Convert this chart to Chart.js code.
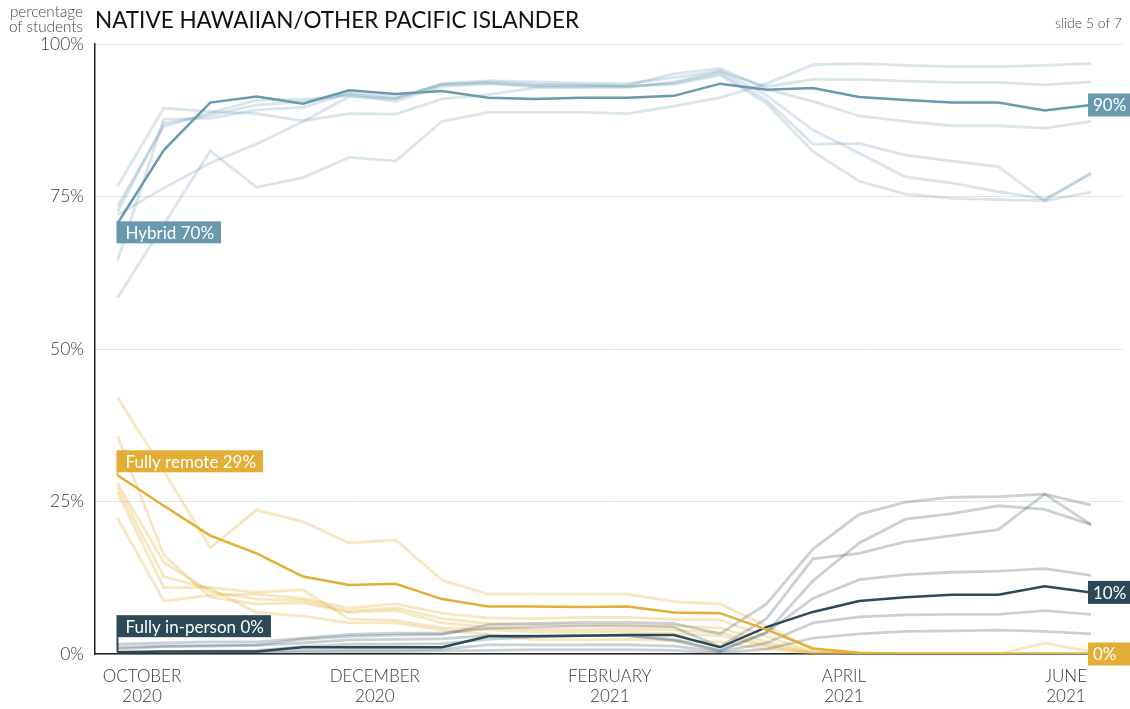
<!DOCTYPE html>
<html>
<head>
<meta charset="utf-8">
<script src="https://cdn.jsdelivr.net/npm/chart.js@4.4.1/dist/chart.umd.min.js"></script>
<style>
  html, body { margin: 0; padding: 0; background: #fff; }
  #wrap { position: relative; width: 1130px; height: 709px; overflow: hidden; }
  #c { position: absolute; left: 0; top: 0; }
  .t { position: absolute; font-family: Lato, "Open Sans", sans-serif; white-space: nowrap; }
  #title { left: 95px; top: 6px; font-size: 22.5px; font-weight: 400; color: #111; }
  #ylab { right: 1047px; top: 4px; font-size: 15.3px; font-weight: 300; color: #444; text-align: right; line-height: 15px; }
  #slide { right: 8px; top: 14px; font-size: 14px; font-weight: 300; color: #444; }
</style>
</head>
<body>
<div id="wrap">
  <canvas id="c" width="1130" height="709"></canvas>
  <div class="t" id="title">NATIVE HAWAIIAN/OTHER PACIFIC ISLANDER</div>
  <div class="t" id="ylab">percentage<br>of students</div>
  <div class="t" id="slide">slide 5 of 7</div>
</div>
<script>
// ---- data (22 survey points, Oct 2020 - Jun 2021) ----
const pointIndex = [0,1,2,3,4,5,6,7,8,9,10,11,12,13,14,15,16,17,18,19,20,21];
const monthTickPos = [0.53, 5.55, 10.62, 15.67, 20.46];
const monthLabels = [["OCTOBER","2020"],["DECEMBER","2020"],["FEBRUARY","2021"],["APRIL","2021"],["JUNE","2021"]];
const yTicks = [0, 25, 50, 75, 100];

// highlighted group: Native Hawaiian / Other Pacific Islander
const hybridMain   = [70.6,82.6,90.4,91.4,90.2,92.4,91.8,92.3,91.2,91.0,91.2,91.2,91.5,93.5,92.5,92.8,91.3,90.8,90.4,90.4,89.1,90.0];
const remoteMain   = [29.3,24.3,19.4,16.5,12.7,11.3,11.5,9.0,7.8,7.8,7.7,7.8,6.8,6.7,4.0,0.9,0.2,0,0,0,0,0];
const inPersonMain = [0.3,0.4,0.4,0.4,1.1,1.1,1.1,1.1,2.9,2.9,3.0,3.1,3.1,1.1,4.4,6.9,8.7,9.3,9.7,9.7,11.1,10.1];

// other groups (faint)
const hybridOther1 = [76.7,89.5,88.9,88.6,87.4,88.6,88.5,91.0,91.7,92.8,93.0,93.2,95.1,96.0,92.6,90.6,88.2,87.3,86.6,86.6,86.2,87.3];
const hybridOther2 = [73.4,86.5,88.7,90.8,90.9,91.6,90.6,93.0,93.5,93.0,92.8,92.9,93.8,95.5,93.0,94.2,94.2,93.9,93.7,93.7,93.3,93.8];
const hybridOther3 = [64.5,87.7,87.8,89.2,89.6,92.0,91.3,93.3,93.8,93.4,93.3,93.0,93.6,95.2,90.8,83.6,83.7,81.8,80.8,79.9,74.3,78.9];
const hybridOther4 = [72.0,76.4,80.5,83.6,87.3,91.4,91.0,93.4,93.6,93.2,93.2,93.1,93.4,94.9,90.3,82.4,77.5,75.4,74.7,74.5,74.3,75.7];
const hybridOther5 = [72.5,87.0,88.3,90.0,90.5,91.8,91.0,93.5,94.0,93.8,93.6,93.5,94.5,95.6,91.6,85.9,82.1,78.2,77.2,75.8,74.6,78.7];
const hybridOther6 = [58.4,70.4,82.5,76.5,78.1,81.4,80.8,87.3,88.8,88.8,88.8,88.6,89.8,91.2,93.5,96.6,96.8,96.5,96.3,96.3,96.5,96.8];

const remoteOther1 = [42.1,30.0,17.4,23.6,21.7,18.2,18.7,12.1,9.8,9.8,9.8,9.8,8.6,8.2,4.6,0.7,0,0,0,0,0,0];
const remoteOther2 = [35.7,16.2,9.3,8.2,8.4,6.8,7.2,5.1,4.4,4.0,4.0,4.1,3.9,3.5,1.5,0.2,0,0,0,0,0,0];
const remoteOther3 = [27.3,12.7,10.7,6.8,6.2,5.1,5.1,3.9,3.2,2.3,2.3,2.4,2.2,2.0,0.8,0.1,0,0,0,0,0,0];
const remoteOther4 = [26.5,10.9,10.9,10.1,10.5,5.7,5.5,4.3,4.0,3.6,3.6,3.6,3.3,3.0,1.2,0.1,0,0,0,0,0,0];
const remoteOther5 = [22.3,8.7,9.6,9.8,9.1,7.5,8.2,6.7,5.9,5.8,6.0,6.0,5.7,5.6,2.9,0.3,0,0,0,0,1.8,0.4];
const remoteOther6 = [28.0,15.0,10.2,9.0,8.8,7.0,7.6,5.8,5.0,4.8,4.8,4.8,4.6,4.3,2.0,0.2,0,0,0,0,0,0];

const inPersonOther1 = [0.8,1.2,1.4,1.5,2.4,2.9,3.1,3.2,4.8,5.0,5.2,5.2,5.0,3.3,8.2,17.2,22.9,24.9,25.7,25.8,26.2,24.4];
const inPersonOther2 = [1.6,1.8,2.0,2.0,2.6,3.2,3.4,3.4,4.2,4.4,4.6,4.6,4.4,1.2,5.8,15.6,16.5,18.4,19.4,20.4,26.2,21.2];
const inPersonOther3 = [0.3,0.4,0.5,0.6,1.2,1.6,1.6,1.7,2.4,2.8,3.0,3.0,2.4,0.6,3.5,12.0,18.2,22.1,23.0,24.3,23.7,21.2];
const inPersonOther4 = [1.1,1.3,1.3,1.4,1.8,2.3,2.4,2.5,3.0,3.0,3.0,3.0,2.2,0.5,3.5,9.1,12.2,13.0,13.4,13.6,14.0,12.9];
const inPersonOther5 = [0.2,0.3,0.3,0.4,0.6,0.7,0.7,0.8,1.5,1.5,1.5,1.5,1.3,0.4,1.8,5.1,6.1,6.4,6.5,6.5,7.1,6.5];
const inPersonOther6 = [0.1,0.1,0.2,0.2,0.3,0.4,0.4,0.5,0.6,0.7,0.7,0.7,0.6,0.2,0.8,2.6,3.3,3.7,3.8,3.9,3.7,3.3];

const startLabels = [
  { series: "hybrid",   text: "Hybrid 70%" },
  { series: "remote",   text: "Fully remote 29%" },
  { series: "inperson", text: "Fully in-person 0%" }
];
const endLabels = [
  { series: "hybrid",   text: "90%" },
  { series: "inperson", text: "10%" },
  { series: "remote",   text: "0%" }
];

// ---- styles ----
const COL = { hybrid: "#6899ae", remote: "#e2ae36", inperson: "#2d4956" };
const FAINT = { hybrid: "rgba(104,153,174,0.25)", remote: "rgba(226,174,54,0.30)", inperson: "rgba(45,73,86,0.25)" };
const LABEL_STYLE = {
  hybrid:   { dy: -2, above: false },
  remote:   { dy: -3, above: true },
  inperson: { dy: -15, above: true }
};
const mainData = { hybrid: hybridMain, remote: remoteMain, inperson: inPersonMain };

function toXY(arr) { return arr.map((v, i) => ({ x: pointIndex[i], y: v })); }
function faint(arr, key) {
  return { data: toXY(arr), borderColor: FAINT[key], borderWidth: 2.8, pointRadius: 0, order: 5, tension: 0, fill: false };
}
function main(arr, key) {
  return { data: toXY(arr), borderColor: COL[key], borderWidth: 2.5, pointRadius: 0, order: 0, tension: 0, fill: false };
}

const datasets = [
  main(hybridMain, "hybrid"), main(remoteMain, "remote"), main(inPersonMain, "inperson"),
  faint(hybridOther1, "hybrid"), faint(hybridOther2, "hybrid"), faint(hybridOther3, "hybrid"),
  faint(hybridOther4, "hybrid"), faint(hybridOther5, "hybrid"), faint(hybridOther6, "hybrid"),
  faint(inPersonOther1, "inperson"), faint(inPersonOther2, "inperson"), faint(inPersonOther3, "inperson"),
  faint(inPersonOther4, "inperson"), faint(inPersonOther5, "inperson"), faint(inPersonOther6, "inperson"),
  faint(remoteOther1, "remote"), faint(remoteOther2, "remote"), faint(remoteOther3, "remote"),
  faint(remoteOther4, "remote"), faint(remoteOther5, "remote"), faint(remoteOther6, "remote")
];

const labelPlugin = {
  id: "seriesLabels",
  afterDatasetsDraw(chart) {
    const ctx = chart.ctx, xs = chart.scales.x, ys = chart.scales.y;
    ctx.save();
    ctx.textBaseline = "middle";
    // start labels
    ctx.font = "400 17px Lato";
    startLabels.forEach(l => {
      const arr = mainData[l.series];
      const px = xs.getPixelForValue(pointIndex[0]);
      const py = ys.getPixelForValue(arr[0]);
      const st = LABEL_STYLE[l.series];
      const w = ctx.measureText(l.text).width + 16, h = 22;
      const left = px - 1;
      let top;
      if (st.above) {
        top = py + st.dy - h;
        ctx.strokeStyle = COL[l.series]; ctx.lineWidth = 2;
        ctx.beginPath(); ctx.moveTo(px, top + h); ctx.lineTo(px, py); ctx.stroke();
      } else {
        top = py + st.dy;
      }
      ctx.fillStyle = COL[l.series];
      ctx.fillRect(left, top, w, h);
      ctx.fillStyle = "#fff";
      ctx.textAlign = "left";
      ctx.fillText(l.text, left + 9, top + h / 2 + 1);
    });
    // end labels
    ctx.font = "400 17px Lato";
    endLabels.forEach(l => {
      const arr = mainData[l.series];
      const last = arr.length - 1;
      const px = xs.getPixelForValue(pointIndex[last]);
      const py = ys.getPixelForValue(arr[last]);
      const w = ctx.measureText(l.text).width + 10, h = 23;
      const left = px - 3;
      ctx.fillStyle = COL[l.series];
      ctx.fillRect(left, py - h / 2, Math.max(w, chart.width - left), h);
      ctx.fillStyle = "#fff";
      ctx.textAlign = "left";
      ctx.fillText(l.text, left + 5, py + 1);
    });
    ctx.restore();
  }
};

new Chart(document.getElementById("c"), {
  type: "line",
  data: { datasets },
  plugins: [labelPlugin],
  options: {
    responsive: false,
    animation: false,
    events: [],
    layout: { padding: { left: 0, right: 7, top: 44, bottom: 0 } },
    plugins: { legend: { display: false }, tooltip: { enabled: false }, title: { display: false } },
    scales: {
      x: {
        type: "linear",
        min: -0.485, max: 21.69,
        grid: { display: false, drawTicks: false },
        border: { display: true, color: "#222", width: 1.5 },
        afterBuildTicks: (s) => { s.ticks = monthTickPos.map(v => ({ value: v })); },
        afterFit: (s) => { s.height = 55; },
        ticks: {
          autoSkip: false, maxRotation: 0, minRotation: 0, padding: 12,
          color: "#3a3a3a",
          font: { family: "Lato", size: 17, weight: 300, lineHeight: 1.2 },
          callback: (v, i) => monthLabels[i]
        }
      },
      y: {
        min: 0, max: 100,
        afterBuildTicks: (s) => { s.ticks = yTicks.map(v => ({ value: v })); },
        afterFit: (s) => { s.width = 95; },
        grid: { color: "#e4e4e4", lineWidth: 1, drawTicks: false },
        border: { display: true, color: "#222", width: 1.5 },
        ticks: {
          padding: 11, color: "#3a3a3a",
          font: { family: "Lato", size: 17.5, weight: 300 },
          callback: (v) => v + "%"
        }
      }
    }
  }
});
</script>
</body>
</html>
